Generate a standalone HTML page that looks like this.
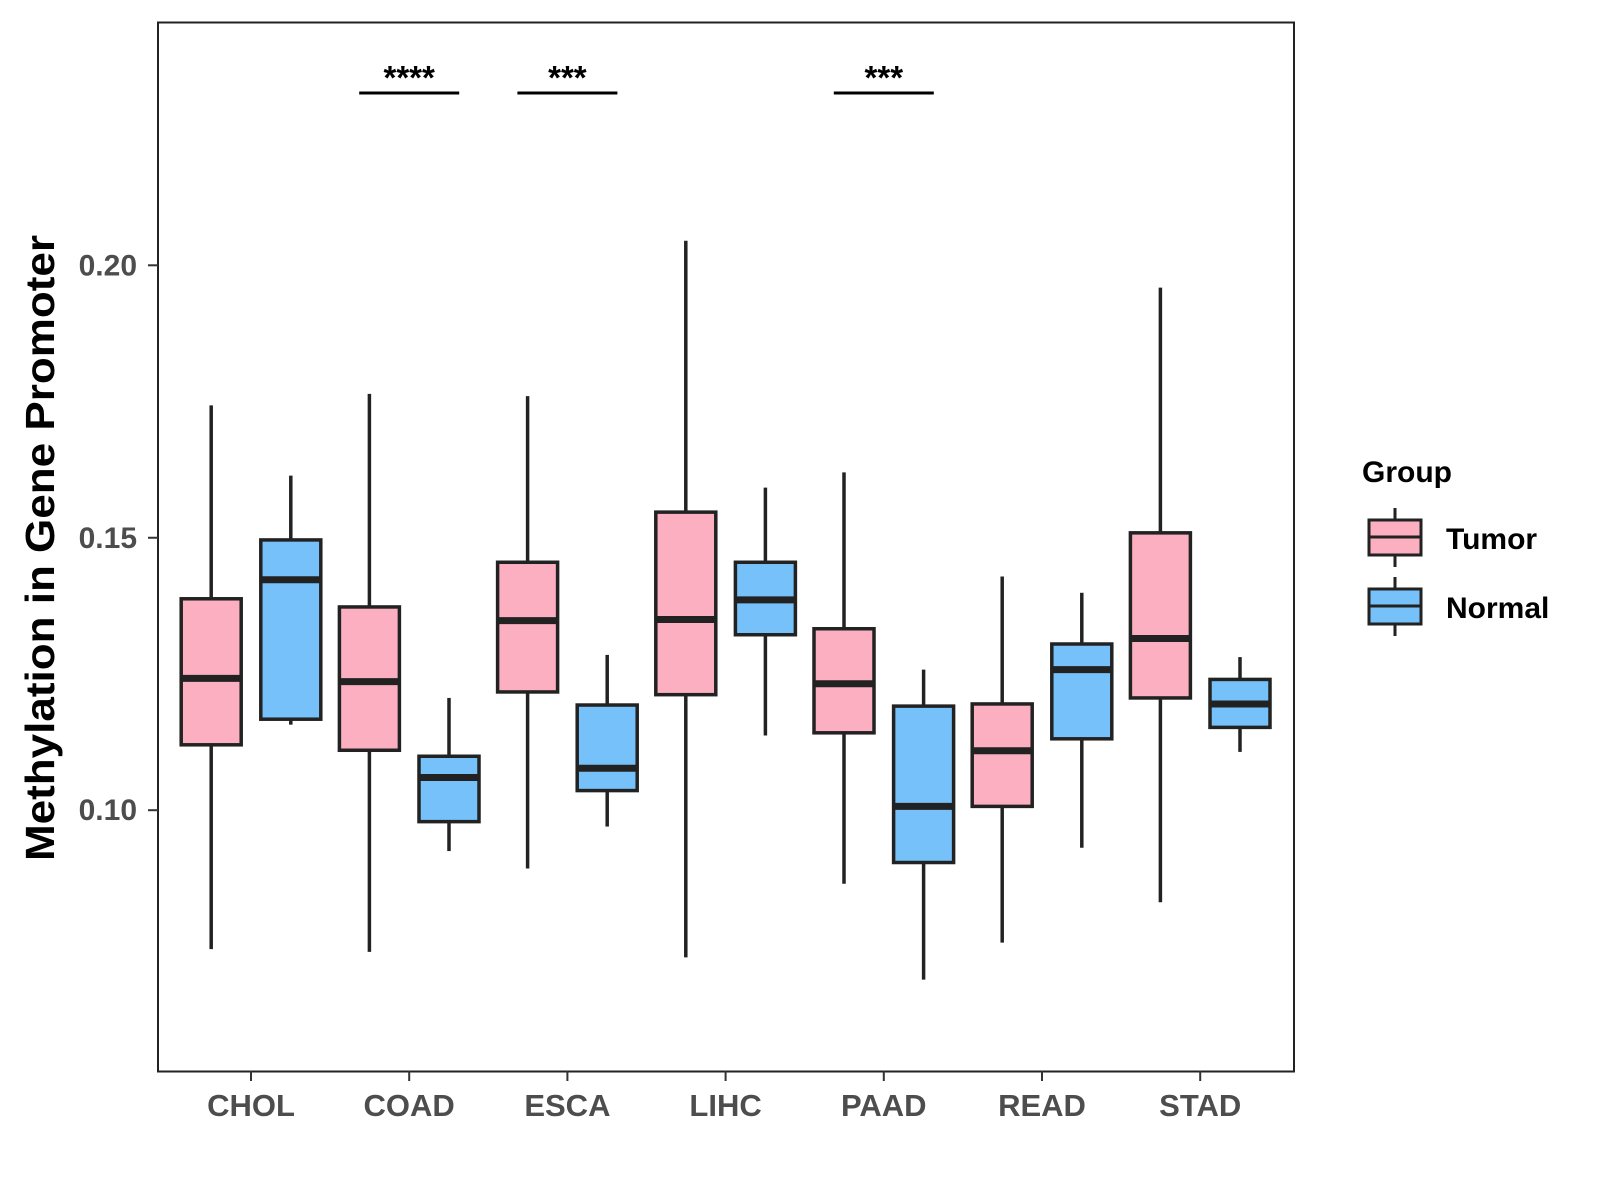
<!DOCTYPE html>
<html><head><meta charset="utf-8"><style>
html,body{margin:0;padding:0;background:#fff}
svg{display:block;font-family:"Liberation Sans",Arial,sans-serif}
</style></head><body>
<svg id="chart" width="1600" height="1200" viewBox="0 0 1600 1200">
<rect x="0" y="0" width="1600" height="1200" fill="#fff"/>
<rect x="158" y="22.5" width="1136" height="1049" fill="none" stroke="#222" stroke-width="2"/>
<g id="marks"></g>
<g id="axes"></g>
<text transform="translate(54,548) rotate(-90)" text-anchor="middle" font-size="41" font-weight="bold" fill="#000" textLength="626" lengthAdjust="spacingAndGlyphs">Methylation in Gene Promoter</text>
<g>
<text x="1362" y="482" font-size="30" font-weight="bold" fill="#000">Group</text>
<g>
<line x1="1395" y1="508" x2="1395" y2="567" stroke="#222" stroke-width="3"/>
<rect x="1369" y="520" width="52" height="35" fill="#FBAFC1" stroke="#222" stroke-width="3"/>
<line x1="1369" y1="537" x2="1421" y2="537" stroke="#222" stroke-width="3"/>
<text x="1446" y="549" font-size="30" font-weight="bold" fill="#000">Tumor</text>
</g>
<g>
<line x1="1395" y1="577" x2="1395" y2="636" stroke="#222" stroke-width="3"/>
<rect x="1369" y="589" width="52" height="35" fill="#76C1F9" stroke="#222" stroke-width="3"/>
<line x1="1369" y1="606" x2="1421" y2="606" stroke="#222" stroke-width="3"/>
<text x="1446" y="618" font-size="30" font-weight="bold" fill="#000">Normal</text>
</g>
</g>
</svg>
<script>
const categories = ["CHOL","COAD","ESCA","LIHC","PAAD","READ","STAD"];
// [max, q3, median, q1, min]
const tumorStats = [
 [0.1743,0.1388,0.1242,0.1120,0.0745],
 [0.1764,0.1373,0.1236,0.1110,0.0740],
 [0.1760,0.1455,0.1348,0.1217,0.0893],
 [0.2045,0.1547,0.1350,0.1212,0.0730],
 [0.1620,0.1333,0.1232,0.1142,0.0865],
 [0.1429,0.1195,0.1109,0.1007,0.0757],
 [0.1959,0.1509,0.1315,0.1206,0.0831]
];
const normalStats = [
 [0.1614,0.1496,0.1423,0.1167,0.1157],
 [0.1206,0.1099,0.1060,0.0979,0.0925],
 [0.1285,0.1193,0.1077,0.1036,0.0970],
 [0.1592,0.1455,0.1386,0.1322,0.1137],
 [0.1258,0.1191,0.1007,0.0904,0.0689],
 [0.1399,0.1305,0.1258,0.1131,0.0931],
 [0.1281,0.1240,0.1195,0.1152,0.1107]
];
const yTicks = [0.10,0.15,0.20];
const yTickLabels = ["0.10","0.15","0.20"];
const sigCategories = ["COAD","ESCA","PAAD"];
const sigLabels = ["****","***","***"];

const NS="http://www.w3.org/2000/svg";
function y(v){return 810.2-(v-0.10)*5449;}
function x(i){return 251+i*158.2;}
const marks=document.getElementById('marks');
const axes=document.getElementById('axes');
function mk(tag,attrs,parent){const e=document.createElementNS(NS,tag);for(const k in attrs)e.setAttribute(k,attrs[k]);parent.appendChild(e);return e;}

function drawBox(cx,s,fill,name){
  const g=mk('g',{},marks);
  
  
  const w=60;
  mk('line',{x1:cx,x2:cx,y1:y(s[0]),y2:y(s[1]),stroke:'#222','stroke-width':3.5},g);
  mk('line',{x1:cx,x2:cx,y1:y(s[3]),y2:y(s[4]),stroke:'#222','stroke-width':3.5},g);
  mk('rect',{x:cx-w/2,y:y(s[1]),width:w,height:y(s[3])-y(s[1]),fill:fill,stroke:'#222','stroke-width':3.5},g);
  mk('line',{x1:cx-w/2,x2:cx+w/2,y1:y(s[2]),y2:y(s[2]),stroke:'#222','stroke-width':7},g);
}
categories.forEach((c,i)=>{
  drawBox(x(i)-39.8,tumorStats[i],'#FBAFC1','box-tumor-'+c.toLowerCase());
  drawBox(x(i)+39.8,normalStats[i],'#76C1F9','box-normal-'+c.toLowerCase());
  const t=mk('line',{x1:x(i),x2:x(i),y1:1071,y2:1081,stroke:'#333','stroke-width':2},axes);
  
  
  const lab=mk('text',{x:x(i),y:1116,'text-anchor':'middle','font-size':31,'font-weight':'bold',fill:'#4d4d4d'},axes);
  
  
  lab.textContent=c;
});
yTicks.forEach((v,i)=>{
  const t=mk('line',{x1:148,x2:158,y1:y(v),y2:y(v),stroke:'#333','stroke-width':2},axes);
  
  
  const lab=mk('text',{x:137,y:y(v)+10,'text-anchor':'end','font-size':30,'font-weight':'bold',fill:'#4d4d4d'},axes);
  
  
  lab.textContent=yTickLabels[i];
});
sigCategories.forEach((c,k)=>{
  const i=categories.indexOf(c);
  const g=mk('g',{},marks);
  
  
  mk('line',{x1:x(i)-50,x2:x(i)+50,y1:93,y2:93,stroke:'#000','stroke-width':3},g);
  const t=mk('text',{x:x(i),y:89,'text-anchor':'middle','font-size':33,'font-weight':'bold',fill:'#000'},g);
  t.textContent=sigLabels[k];
});
</script>
</body></html>
